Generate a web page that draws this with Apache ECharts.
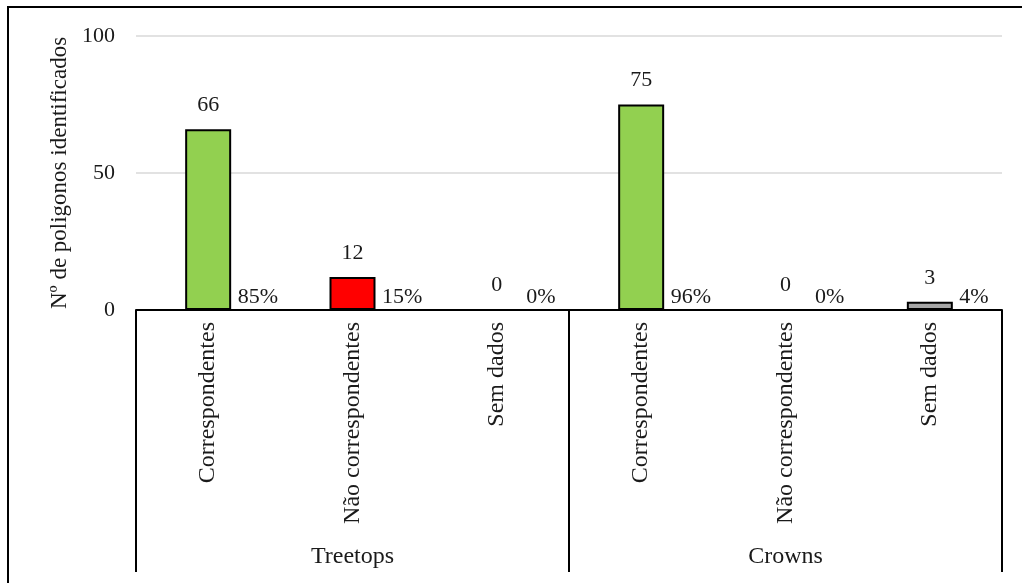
<!DOCTYPE html>
<html>
<head>
<meta charset="utf-8">
<script src="https://cdn.jsdelivr.net/npm/echarts@6/dist/echarts.min.js"></script>
<style>
  html, body { margin: 0; padding: 0; background: #fff; }
  #chart { width: 1022px; height: 583px; }
</style>
</head>
<body>
<div id="chart"></div>
<script>
// Polygon counts per class, grouped by detection target
const categories = ['Correspondentes', 'Não correspondentes', 'Sem dados',
                    'Correspondentes', 'Não correspondentes', 'Sem dados'];
const groups = ['Treetops', 'Crowns'];
const counts = [66, 12, 0, 75, 0, 3];
const shares = ['85%', '15%', '0%', '96%', '0%', '4%'];
const barColors = ['#92d050', '#ff0000', '#a6a6a6', '#92d050', '#ff0000', '#a6a6a6'];
const yTicks = [0, 50, 100];

const FONT = '"Liberation Serif", "Times New Roman", serif';
const TXT = '#1a1a1a';

const chart = echarts.init(document.getElementById('chart'), null, { renderer: 'canvas' });

chart.setOption({
  animation: false,
  grid: { left: 136, right: 20, top: 36, bottom: 273 },
  graphic: [{
    type: 'rect',
    shape: { x: 8, y: 7, width: 1040, height: 620 },
    style: { fill: 'none', stroke: '#000', lineWidth: 2 },
    silent: true
  }],
  xAxis: [{
    type: 'category',
    data: categories,
    axisLine: { show: true, lineStyle: { color: '#000', width: 2 } },
    axisTick: { show: false },
    axisLabel: {
      interval: 0, rotate: 90, margin: 12,
      fontFamily: FONT, fontSize: 24, color: TXT
    }
  }, {
    type: 'category',
    data: groups,
    position: 'bottom',
    axisLine: { show: false },
    axisTick: { show: true, length: 262, lineStyle: { color: '#000', width: 2 } },
    axisLabel: { margin: 235, fontFamily: FONT, fontSize: 24, color: TXT }
  }],
  yAxis: {
    type: 'value',
    min: yTicks[0], max: yTicks[yTicks.length - 1], interval: 50,
    name: 'Nº de poligonos identificados',
    nameLocation: 'middle', nameGap: 63, nameRotate: 90,
    nameTextStyle: { fontFamily: FONT, fontSize: 23, color: TXT },
    axisLine: { show: false },
    axisTick: { show: false },
    axisLabel: { margin: 21, fontFamily: FONT, fontSize: 22, color: TXT },
    splitLine: { lineStyle: { color: '#d9d9d9', width: 1.5 } }
  },
  series: [{
    type: 'bar',
    xAxisIndex: 0,
    barWidth: 46,
    data: counts.map((v, i) => ({
      value: v,
      itemStyle: { color: barColors[i], borderColor: '#000', borderWidth: 2 }
    })),
    label: {
      show: true, position: 'top', distance: 13,
      fontFamily: FONT, fontSize: 22, color: TXT
    }
  }, {
    // share labels sitting just right of each bar's base
    type: 'scatter',
    xAxisIndex: 0,
    symbol: 'circle', symbolSize: 1,
    itemStyle: { color: 'transparent', opacity: 1 },
    data: shares.map((s, i) => [i, 0]),
    label: {
      show: true, position: 'right', distance: 29, offset: [0, -13],
      formatter: p => shares[p.dataIndex],
      fontFamily: FONT, fontSize: 22, color: TXT, opacity: 1
    },
    z: 5
  }]
});
</script>
</body>
</html>
